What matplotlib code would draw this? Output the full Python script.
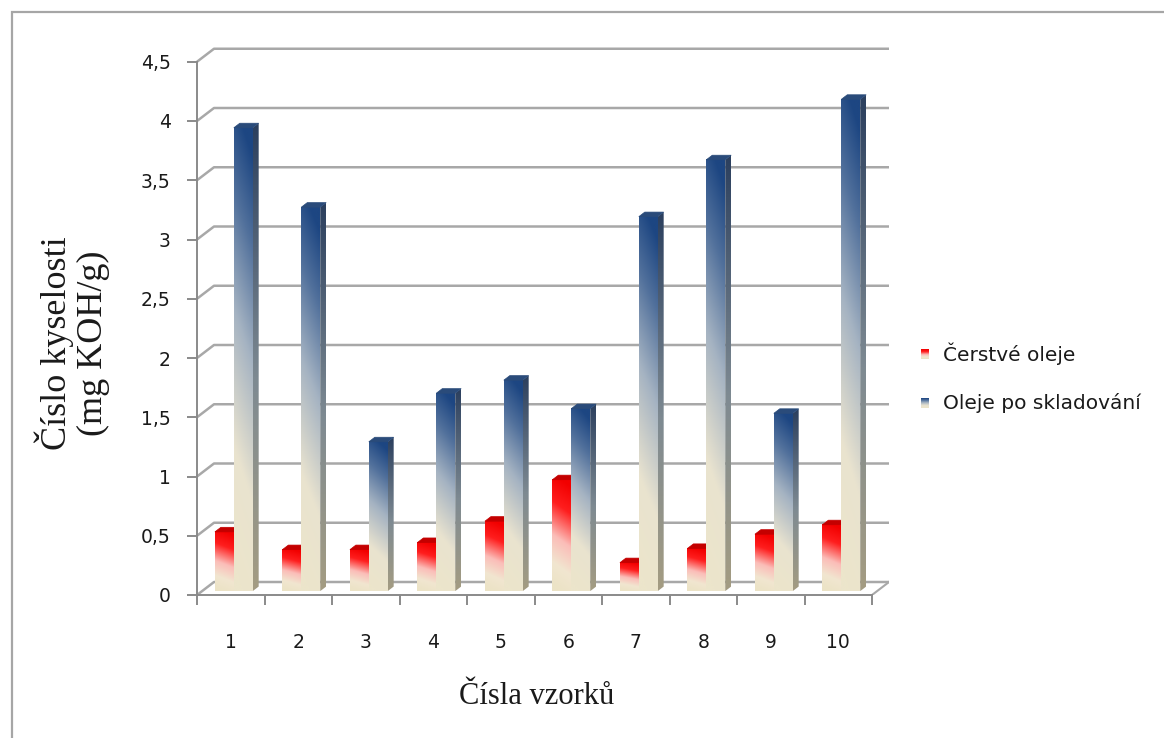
import numpy as np
import matplotlib.pyplot as plt
from matplotlib.patches import Polygon, Rectangle
from matplotlib.colors import LinearSegmentedColormap

# hodnoty čísla kyselosti pro jednotlivé vzorky
vzorky = ['1', '2', '3', '4', '5', '6', '7', '8', '9', '10']
cerstve = [0.50, 0.35, 0.35, 0.41, 0.59, 0.94, 0.24, 0.36, 0.48, 0.56]
po_skladovani = [3.91, 3.24, 1.26, 1.67, 1.78, 1.54, 3.16, 3.64, 1.50, 4.15]
serie = ['Čerstvé oleje', 'Oleje po skladování']
y_ticks = [0, 0.5, 1, 1.5, 2, 2.5, 3, 3.5, 4, 4.5]
y_labels = ['0', '0,5', '1', '1,5', '2', '2,5', '3', '3,5', '4', '4,5']

# barvy přechodů (zdola nahoru)
red_cmap = LinearSegmentedColormap.from_list('r', [
    (0, '#ece3c6'), (0.2, '#f1e6d0'), (0.45, '#fbbdb8'), (0.75, '#ff1e1e'), (1, '#f20000')])
blue_cmap = LinearSegmentedColormap.from_list('b', [
    (0, '#ece5cb'), (0.25, '#e9e3cf'), (0.55, '#a5b3c2'), (0.8, '#52719c'), (1, '#1d4682')])
red_side = LinearSegmentedColormap.from_list('rs', [(0, '#a89f84'), (0.5, '#b05050'), (1, '#9a0000')])
blue_side = LinearSegmentedColormap.from_list('bs', [(0, '#a49c82'), (0.45, '#7e8a92'), (1, '#2b3f5e')])
red_top = '#c40000'
blue_top = '#2a4b7a'
grid_c = '#a8a8a8'
axis_c = '#8a8a8a'
text_c = '#1a1a1a'

W, H = 1164, 738
fig = plt.figure(figsize=(W / 100, H / 100), dpi=100)

px_x = 67.5    # px na jednu kategorii
px_y = 118.5   # px na jednotku osy y
DX, DY = 17 / px_x, 13 / px_y   # hloubka 3D podlahy
F, BD = 0.3, 0.35               # umístění a hloubka sloupců
BW = 0.28
shift = -0.03

ax_w = 692
ax_h = 546.3
ax = fig.add_axes([197 / W, (H - 595) / H, ax_w / W, ax_h / H])
ax.set_xlim(0.5, 0.5 + ax_w / px_x)
ax.set_ylim(0, ax_h / px_y)
ax.patch.set_visible(False)

# zadní stěna, boční stěna a podlaha
for v in y_ticks:
    ax.plot([0.5, 0.5 + DX, 10.5 + DX], [v, v + DY, v + DY], color=grid_c,
            lw=1.8, zorder=1, clip_on=False, solid_capstyle='butt')
ax.plot([10.5, 10.5 + DX], [0, DY], color=grid_c, lw=1.5, zorder=1)

for s in ['top', 'right']:
    ax.spines[s].set_visible(False)
ax.spines['left'].set_bounds(0, 4.5)
ax.spines['bottom'].set_bounds(0.5, 10.5)
for s in ['left', 'bottom']:
    ax.spines[s].set_color(axis_c)
    ax.spines[s].set_linewidth(1.4)

ax.set_yticks(y_ticks)
ax.set_yticklabels(y_labels)
ax.tick_params(axis='y', length=7, width=1.4, color=axis_c, pad=12,
               labelsize=13.5, labelcolor=text_c)
ax.set_xticks(np.arange(0.5, 11, 1))
ax.set_xticklabels([])
ax.tick_params(axis='x', which='major', length=7, width=1.4, color=axis_c)
ax.set_xticks(np.arange(1, 11), minor=True)
ax.set_xticklabels(vzorky, minor=True)
ax.tick_params(axis='x', which='minor', length=0, pad=27, labelsize=13.5, labelcolor=text_c)


def gradient(nx, ny, tilt):
    xs = np.linspace(0, 1, nx)
    ys = np.linspace(0, 1, ny)
    gx, gy = np.meshgrid(xs, ys)
    return np.clip(gy + tilt * (gx - 0.5), 0, 1)


def bar3d(x0, v, cmap, side_cmap, top_c):
    xl = x0 + F * DX
    xr = xl + BW
    yb = F * DY
    yt = v + F * DY
    ox, oy = BD * DX, BD * DY
    # čelní stěna
    ax.imshow(cmap(gradient(80, 400, 0.12)), extent=(xl, xr, yb, yt), origin='lower',
              aspect='auto', interpolation='antialiased', zorder=3)
    # boční stěna
    side = Polygon([(xr, yb), (xr + ox, yb + oy), (xr + ox, yt + oy), (xr, yt)],
                   closed=True, transform=ax.transData, fc='none', ec='none')
    ax.add_patch(side)
    im = ax.imshow(side_cmap(gradient(8, 400, 0)), extent=(xr, xr + ox, yb, yt + oy),
                   origin='lower', aspect='auto', interpolation='antialiased', zorder=3)
    im.set_clip_path(side)
    # horní stěna
    ax.add_patch(Polygon([(xl, yt), (xr, yt), (xr + ox, yt + oy), (xl + ox, yt + oy)],
                         closed=True, fc=top_c, ec=top_c, lw=0.5, zorder=3))


for i in range(len(vzorky)):
    c = i + 1
    bar3d(c - BW + shift, cerstve[i], red_cmap, red_side, red_top)
    bar3d(c + shift, po_skladovani[i], blue_cmap, blue_side, blue_top)

ax.set_xlim(0.5, 0.5 + ax_w / px_x)
ax.set_ylim(0, ax_h / px_y)

# popisky os
fig.text(72 / W, 1 - 343 / H, 'Číslo kyselosti\n(mg KOH/g)', rotation=90,
         ha='center', va='center', multialignment='center', linespacing=1.1,
         family='Liberation Serif', fontsize=26, color=text_c)
fig.text(537 / W, 1 - 697 / H, 'Čísla vzorků', ha='center', va='center',
         family='Liberation Serif', fontsize=22, color=text_c)

# legenda
for k, (name, cmap, yc) in enumerate([(serie[0], red_cmap, 354), (serie[1], blue_cmap, 403)]):
    lax = fig.add_axes([921 / W, (H - yc - 5) / H, 8 / W, 10 / H])
    lax.imshow(cmap(gradient(4, 20, 0)), origin='lower', aspect='auto',
               interpolation='bilinear')
    lax.axis('off')
    fig.text(943 / W, 1 - yc / H, name, ha='left', va='center', fontsize=14.5,
             color=text_c)

# rámeček grafu
fig.add_artist(Rectangle((12 / W, -0.1), 1.2, (H - 12) / H + 0.1, fill=False,
                         ec='#a6a6a6', lw=1.6, transform=fig.transFigure))

fig.savefig('out.png', dpi=100)
